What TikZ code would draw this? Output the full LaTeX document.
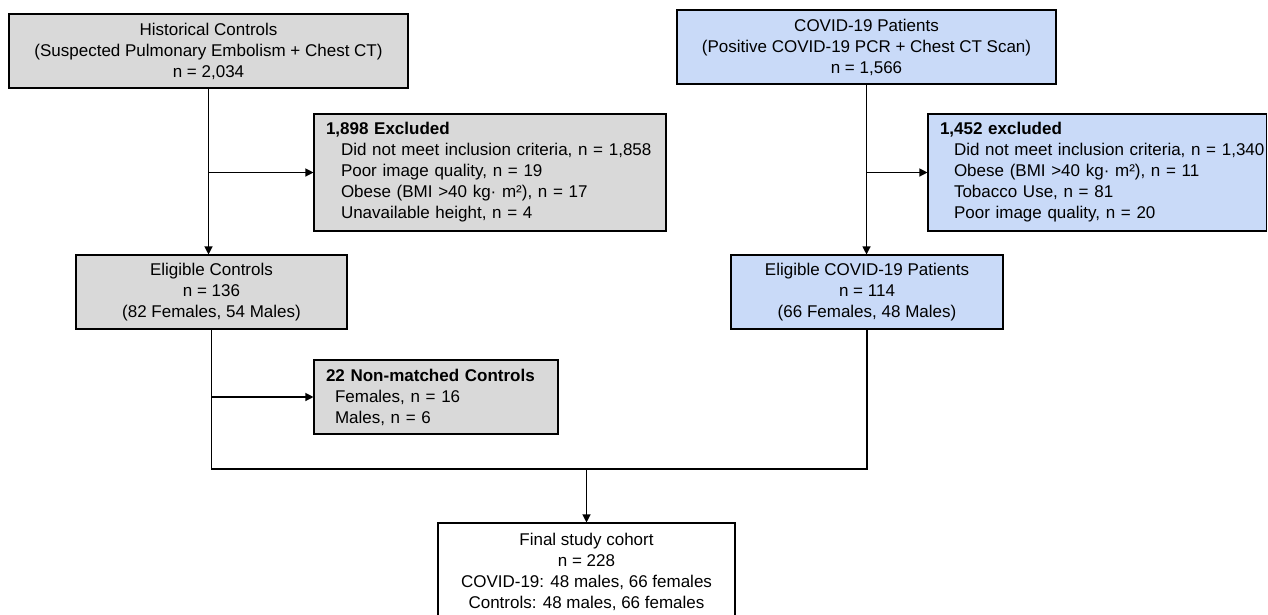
\documentclass[tikz,border=0pt]{standalone}
\usepackage{fontspec}
\setmainfont{Liberation Sans}
\usetikzlibrary{arrows.meta}
\definecolor{boxgray}{HTML}{D9D9D9}
\definecolor{boxblue}{HTML}{C9DAF8}
\begin{document}
\begin{tikzpicture}[x=1pt,y=-1pt,
  box/.style={draw=black, line width=1.1pt, inner sep=0pt, align=center,
    font=\fontsize{17}{21}\selectfont},
  lbox/.style={box, align=left, inner xsep=12pt, inner ysep=0pt},
  ln/.style={line width=1.2pt},
  arr/.style={line width=1.2pt, -{Triangle[length=8pt,width=8pt]}}]
\useasboundingbox (0,0) rectangle (1268,614);

% top boxes
\node[box, fill=boxgray, minimum width=399pt, minimum height=74pt] (hc) at (208.5,51)
  {Historical Controls\\(Suspected Pulmonary Embolism + Chest CT)\\n = 2,034};
\node[box, fill=boxblue, minimum width=379pt, minimum height=74pt] (cv) at (866.5,47)
  {COVID-19 Patients\\(Positive COVID-19 PCR + Chest CT Scan)\\n = 1,566};

% exclusion boxes
\node[lbox, fill=boxgray, text width=328pt, minimum height=117pt] (ex1) at (490,172.5)
  {\mbox{\textbf{1,898 Excluded}}\\
   \mbox{\hspace*{15pt}Did not meet inclusion criteria, n = 1,858}\\
   \mbox{\hspace*{15pt}Poor image quality, n = 19}\\
   \mbox{\hspace*{15pt}Obese (BMI >40 kg· m²), n = 17}\\
   \mbox{\hspace*{15pt}Unavailable height, n = 4}};
\node[lbox, fill=boxblue, text width=314.5pt, minimum height=117pt] (ex2) at (1097.25,172.5)
  {\mbox{\textbf{1,452 excluded}}\\
   \mbox{\hspace*{14pt}Did not meet inclusion criteria, n = 1,340}\\
   \mbox{\hspace*{14pt}Obese (BMI >40 kg· m²), n = 11}\\
   \mbox{\hspace*{14pt}Tobacco Use, n = 81}\\
   \mbox{\hspace*{14pt}Poor image quality, n = 20}};

% eligible boxes
\node[box, fill=boxgray, minimum width=271pt, minimum height=74pt] (ec) at (211.5,292)
  {Eligible Controls\\n = 136\\(82 Females, 54 Males)};
\node[box, fill=boxblue, minimum width=272pt, minimum height=74pt] (ecv) at (867,292)
  {Eligible COVID-19 Patients\\n = 114\\(66 Females, 48 Males)};

% non-matched
\node[lbox, fill=boxgray, text width=220pt, minimum height=74pt] (nm) at (436,397)
  {\mbox{\textbf{22 Non-matched Controls}}\\
   \mbox{\hspace*{9pt}Females, n = 16}\\
   \mbox{\hspace*{9pt}Males, n = 6}};

% final
\node[box, fill=white, minimum width=297pt, minimum height=98pt] (fin) at (586.5,572)
  {Final study cohort\\n = 228\\COVID-19: 48 males, 66 females\\Controls: 48 males, 66 females};

% connectors
\coordinate (b1) at (hc.south |- ex1.west);
\coordinate (b2) at (cv.south |- ex2.west);
\coordinate (b3) at (ec.south |- nm.west);
\coordinate (mj) at (fin.north |- 0,469);

\draw[arr] (hc.south) -- (hc.south |- ec.north);
\draw[arr] (b1) -- (ex1.west);
\draw[arr] (cv.south) -- (cv.south |- ecv.north);
\draw[arr] (b2) -- (ex2.west);
\draw[ln] (ec.south) |- (mj);
\draw[ln] (ecv.south) |- (mj);
\draw[arr] (b3) -- (nm.west);
\draw[arr] (mj) -- (fin.north);
\end{tikzpicture}
\end{document}
